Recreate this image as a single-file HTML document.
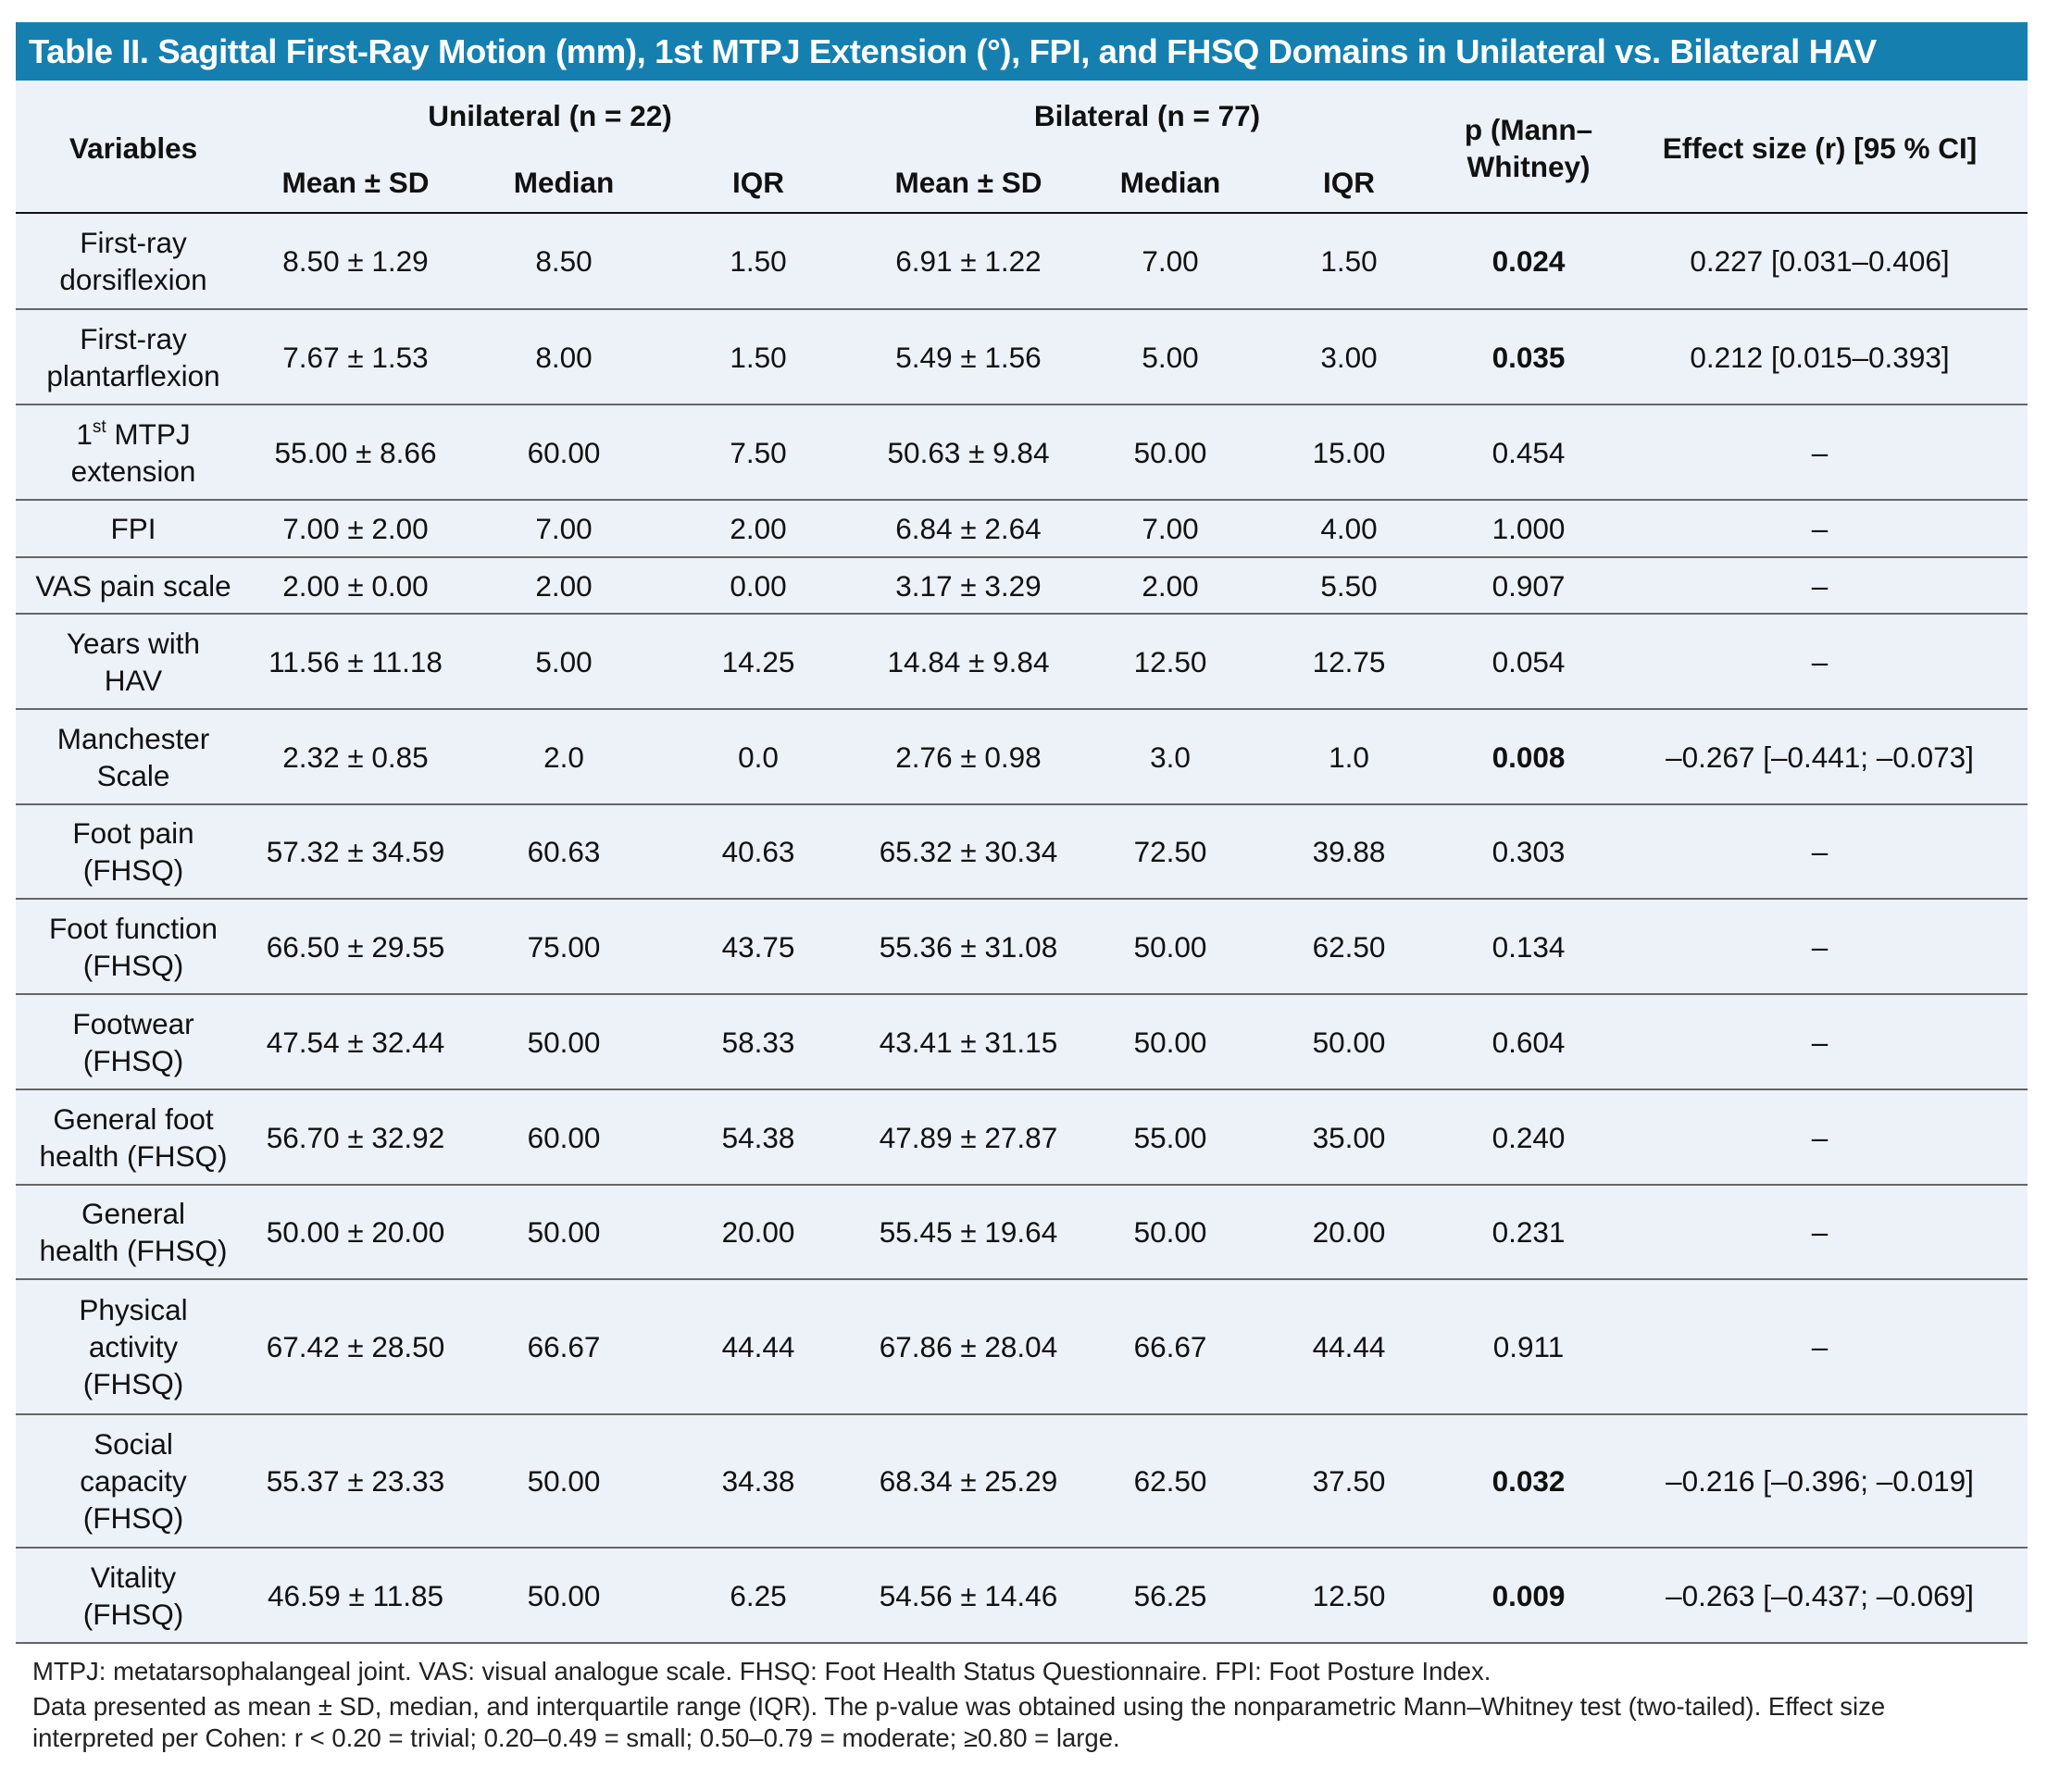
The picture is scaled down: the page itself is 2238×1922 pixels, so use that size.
<!DOCTYPE html>
<html><head><meta charset="utf-8">
<style>
*{margin:0;padding:0;box-sizing:border-box}
body{width:2238px;height:1922px;background:#fff;position:relative;font-family:"Liberation Sans",sans-serif;color:#111;overflow:hidden}
.title{position:absolute;left:17px;top:24px;width:2173px;height:63px;background:#1580b0;color:#fff;font-weight:bold;font-size:36.5px;line-height:63px;padding-left:14px;letter-spacing:-0.4px;white-space:nowrap}
.bg{position:absolute;left:17px;top:87px;width:2173px;height:1688px;background:#edf1f8}
.h{position:absolute;font-weight:bold;font-size:31.5px;text-align:center;line-height:40px;white-space:nowrap}
.row{position:absolute;left:17px;width:2173px;display:flex;border-bottom:2px solid #666}
.row div{display:flex;align-items:center;justify-content:center;text-align:center;font-size:31.5px;line-height:40px}
.c1{width:254px}.c2{width:226px}.c3{width:224px}.c4{width:196px}.c5{width:258px}.c6{width:178px}.c7{width:208px}.c8{width:180px}.c9{width:449px}
b{font-weight:bold}
sup{font-size:19px;line-height:0;vertical-align:13px}
.hl{position:absolute;left:17px;top:229px;width:2173px;height:2px;background:#111}
.fn{position:absolute;left:35px;font-size:27.5px;color:#222;white-space:nowrap;line-height:36px}
</style></head><body>
<div class="title">Table II. Sagittal First-Ray Motion (mm), 1st MTPJ Extension (°), FPI, and FHSQ Domains in Unilateral vs. Bilateral HAV</div>
<div class="bg"></div>
<div class="h" style="left:17px;width:254px;top:140px">Variables</div>
<div class="h" style="left:271px;width:646px;top:105px">Unilateral (n = 22)</div>
<div class="h" style="left:917px;width:644px;top:105px">Bilateral (n = 77)</div>
<div class="h" style="left:271px;width:226px;top:177px">Mean ± SD</div>
<div class="h" style="left:497px;width:224px;top:177px">Median</div>
<div class="h" style="left:721px;width:196px;top:177px">IQR</div>
<div class="h" style="left:917px;width:258px;top:177px">Mean ± SD</div>
<div class="h" style="left:1175px;width:178px;top:177px">Median</div>
<div class="h" style="left:1353px;width:208px;top:177px">IQR</div>
<div class="h" style="left:1561px;width:180px;top:120px">p (Mann–<br>Whitney)</div>
<div class="h" style="left:1741px;width:449px;top:140px">Effect size (r) [95 % CI]</div>
<div class="hl"></div>

<div class="row" style="top:231px;height:104px"><div class="c1">First-ray<br>dorsiflexion</div><div class="c2">8.50 ± 1.29</div><div class="c3">8.50</div><div class="c4">1.50</div><div class="c5">6.91 ± 1.22</div><div class="c6">7.00</div><div class="c7">1.50</div><div class="c8"><b>0.024</b></div><div class="c9">0.227 [0.031–0.406]</div></div>
<div class="row" style="top:335px;height:103px"><div class="c1">First-ray<br>plantarflexion</div><div class="c2">7.67 ± 1.53</div><div class="c3">8.00</div><div class="c4">1.50</div><div class="c5">5.49 ± 1.56</div><div class="c6">5.00</div><div class="c7">3.00</div><div class="c8"><b>0.035</b></div><div class="c9">0.212 [0.015–0.393]</div></div>
<div class="row" style="top:438px;height:103px"><div class="c1"><span>1<sup>st</sup> MTPJ<br>extension</span></div><div class="c2">55.00 ± 8.66</div><div class="c3">60.00</div><div class="c4">7.50</div><div class="c5">50.63 ± 9.84</div><div class="c6">50.00</div><div class="c7">15.00</div><div class="c8">0.454</div><div class="c9">–</div></div>
<div class="row" style="top:541px;height:62px"><div class="c1">FPI</div><div class="c2">7.00 ± 2.00</div><div class="c3">7.00</div><div class="c4">2.00</div><div class="c5">6.84 ± 2.64</div><div class="c6">7.00</div><div class="c7">4.00</div><div class="c8">1.000</div><div class="c9">–</div></div>
<div class="row" style="top:603px;height:61px"><div class="c1">VAS pain scale</div><div class="c2">2.00 ± 0.00</div><div class="c3">2.00</div><div class="c4">0.00</div><div class="c5">3.17 ± 3.29</div><div class="c6">2.00</div><div class="c7">5.50</div><div class="c8">0.907</div><div class="c9">–</div></div>
<div class="row" style="top:664px;height:103px"><div class="c1">Years with<br>HAV</div><div class="c2">11.56 ± 11.18</div><div class="c3">5.00</div><div class="c4">14.25</div><div class="c5">14.84 ± 9.84</div><div class="c6">12.50</div><div class="c7">12.75</div><div class="c8">0.054</div><div class="c9">–</div></div>
<div class="row" style="top:767px;height:103px"><div class="c1">Manchester<br>Scale</div><div class="c2">2.32 ± 0.85</div><div class="c3">2.0</div><div class="c4">0.0</div><div class="c5">2.76 ± 0.98</div><div class="c6">3.0</div><div class="c7">1.0</div><div class="c8"><b>0.008</b></div><div class="c9">–0.267 [–0.441; –0.073]</div></div>
<div class="row" style="top:870px;height:102px"><div class="c1">Foot pain<br>(FHSQ)</div><div class="c2">57.32 ± 34.59</div><div class="c3">60.63</div><div class="c4">40.63</div><div class="c5">65.32 ± 30.34</div><div class="c6">72.50</div><div class="c7">39.88</div><div class="c8">0.303</div><div class="c9">–</div></div>
<div class="row" style="top:972px;height:103px"><div class="c1">Foot function<br>(FHSQ)</div><div class="c2">66.50 ± 29.55</div><div class="c3">75.00</div><div class="c4">43.75</div><div class="c5">55.36 ± 31.08</div><div class="c6">50.00</div><div class="c7">62.50</div><div class="c8">0.134</div><div class="c9">–</div></div>
<div class="row" style="top:1075px;height:103px"><div class="c1">Footwear<br>(FHSQ)</div><div class="c2">47.54 ± 32.44</div><div class="c3">50.00</div><div class="c4">58.33</div><div class="c5">43.41 ± 31.15</div><div class="c6">50.00</div><div class="c7">50.00</div><div class="c8">0.604</div><div class="c9">–</div></div>
<div class="row" style="top:1178px;height:103px"><div class="c1">General foot<br>health (FHSQ)</div><div class="c2">56.70 ± 32.92</div><div class="c3">60.00</div><div class="c4">54.38</div><div class="c5">47.89 ± 27.87</div><div class="c6">55.00</div><div class="c7">35.00</div><div class="c8">0.240</div><div class="c9">–</div></div>
<div class="row" style="top:1281px;height:102px"><div class="c1">General<br>health (FHSQ)</div><div class="c2">50.00 ± 20.00</div><div class="c3">50.00</div><div class="c4">20.00</div><div class="c5">55.45 ± 19.64</div><div class="c6">50.00</div><div class="c7">20.00</div><div class="c8">0.231</div><div class="c9">–</div></div>
<div class="row" style="top:1383px;height:146px"><div class="c1">Physical<br>activity<br>(FHSQ)</div><div class="c2">67.42 ± 28.50</div><div class="c3">66.67</div><div class="c4">44.44</div><div class="c5">67.86 ± 28.04</div><div class="c6">66.67</div><div class="c7">44.44</div><div class="c8">0.911</div><div class="c9">–</div></div>
<div class="row" style="top:1529px;height:144px"><div class="c1">Social<br>capacity<br>(FHSQ)</div><div class="c2">55.37 ± 23.33</div><div class="c3">50.00</div><div class="c4">34.38</div><div class="c5">68.34 ± 25.29</div><div class="c6">62.50</div><div class="c7">37.50</div><div class="c8"><b>0.032</b></div><div class="c9">–0.216 [–0.396; –0.019]</div></div>
<div class="row" style="top:1673px;height:103px"><div class="c1">Vitality<br>(FHSQ)</div><div class="c2">46.59 ± 11.85</div><div class="c3">50.00</div><div class="c4">6.25</div><div class="c5">54.56 ± 14.46</div><div class="c6">56.25</div><div class="c7">12.50</div><div class="c8"><b>0.009</b></div><div class="c9">–0.263 [–0.437; –0.069]</div></div>

<div class="fn" style="top:1788px">MTPJ: metatarsophalangeal joint. VAS: visual analogue scale. FHSQ: Foot Health Status Questionnaire. FPI: Foot Posture Index.</div>
<div class="fn" style="top:1826px">Data presented as mean ± SD, median, and interquartile range (IQR). The p-value was obtained using the nonparametric Mann–Whitney test (two-tailed). Effect size</div>
<div class="fn" style="top:1860px">interpreted per Cohen: r &lt; 0.20 = trivial; 0.20–0.49 = small; 0.50–0.79 = moderate; ≥0.80 = large.</div>
</body></html>
